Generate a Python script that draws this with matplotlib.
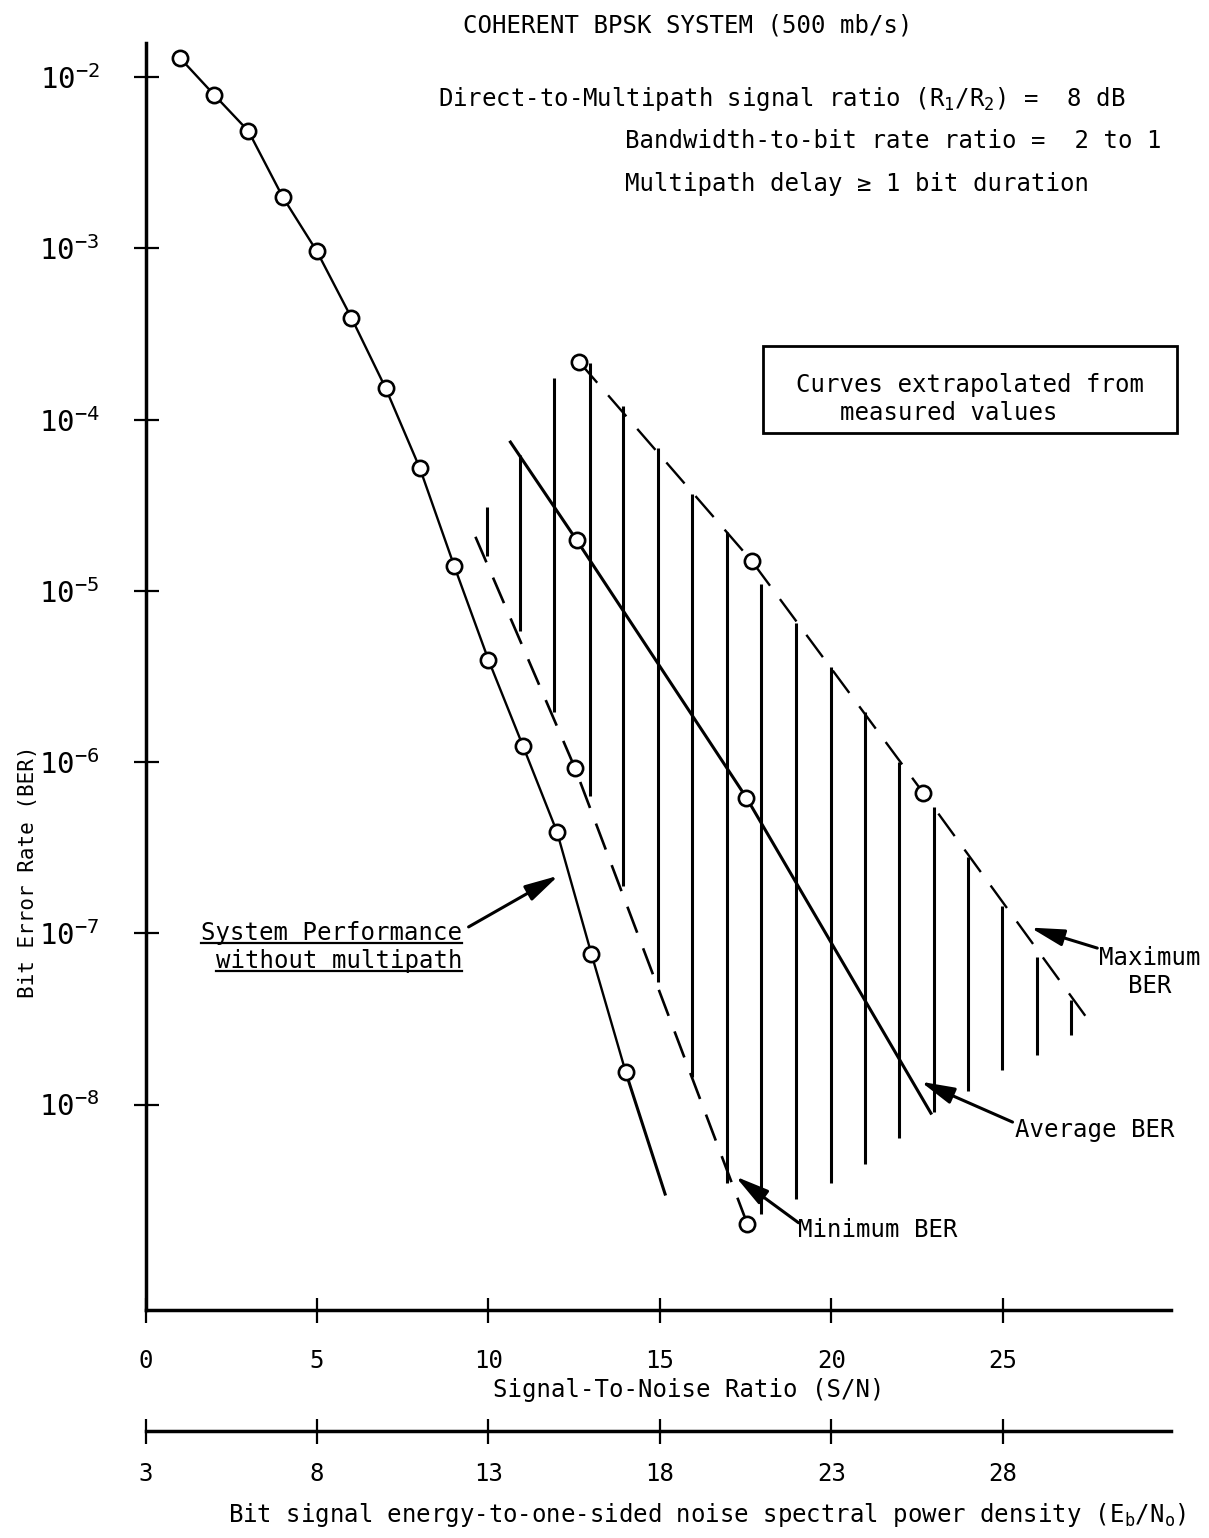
import matplotlib
matplotlib.use("Agg")
import matplotlib.pyplot as plt
from matplotlib.patches import Rectangle
from matplotlib.lines import Line2D
from matplotlib.ticker import NullLocator
from matplotlib.transforms import IdentityTransform

plt.rcParams['font.family'] = 'DejaVu Sans Mono'
plt.rcParams['mathtext.default'] = 'regular'
plt.rcParams['lines.scale_dashes'] = False

W, H = 1209, 1538
FS = 17.3

# system performance without multipath (measured)
sn_clean = [1, 2, 3, 4, 5, 6, 7, 8, 9, 10, 11, 12, 13, 14]
ber_clean = [1.3e-2, 7.9e-3, 4.85e-3, 2.0e-3, 9.6e-4, 3.95e-4, 1.53e-4,
             5.2e-5, 1.4e-5, 3.95e-6, 1.25e-6, 3.9e-7, 7.6e-8, 1.55e-8]
sn_clean_ext = [14, 15.15]
ber_clean_ext = [1.55e-8, 3.0e-9]

# maximum BER (dashed)
sn_max = [12.64, 17.67, 22.68, 27.4]
ber_max = [2.18e-4, 1.5e-5, 6.6e-7, 3.3e-8]
sn_max_meas = [12.64, 17.67, 22.68]
ber_max_meas = [2.18e-4, 1.5e-5, 6.6e-7]

# minimum BER (dashed)
sn_min = [9.62, 12.52, 17.55]
ber_min = [2.07e-5, 9.25e-7, 2.0e-9]
sn_min_meas = [12.52, 17.55]
ber_min_meas = [9.25e-7, 2.0e-9]

# average BER (solid)
sn_avg = [10.64, 12.57, 17.52, 22.9]
ber_avg = [7.4e-5, 1.98e-5, 6.2e-7, 8.9e-9]
sn_avg_meas = [12.57, 17.52]
ber_avg_meas = [1.98e-5, 6.2e-7]

# spread between max and min
hatch_sn = [9.95, 10.92, 11.92, 12.95, 13.93, 14.94, 15.94, 16.94, 17.96,
            18.98, 19.98, 20.98, 21.98, 22.98, 23.98, 24.98, 25.98, 26.98]
hatch_top = [3.1e-5, 6.2e-5, 1.75e-4, 2.15e-4, 1.2e-4, 6.8e-5, 3.7e-5, 2.2e-5, 1.1e-5,
             6.5e-6, 3.6e-6, 1.95e-6, 1.0e-6, 5.5e-7, 2.8e-7, 1.45e-7, 7.3e-8, 4.1e-8]
hatch_bot = [1.6e-5, 5.8e-6, 1.95e-6, 6.3e-7, 1.9e-7, 5.2e-8, 1.45e-8, 3.5e-9, 2.3e-9,
             2.8e-9, 3.5e-9, 4.5e-9, 6.4e-9, 9.0e-9, 1.2e-8, 1.6e-8, 1.95e-8, 2.55e-8]

sn_ticks = [0, 5, 10, 15, 20, 25]
ebno_ticks = [3, 8, 13, 18, 23, 28]
ber_ticks = [1e-2, 1e-3, 1e-4, 1e-5, 1e-6, 1e-7, 1e-8]
ber_labels = [r'$10^{-2}$', r'$10^{-3}$', r'$10^{-4}$', r'$10^{-5}$',
              r'$10^{-6}$', r'$10^{-7}$', r'$10^{-8}$']

fig = plt.figure(figsize=(W / 100, H / 100), dpi=100)
ax = fig.add_axes([145.5 / W, 1 - 1310 / H, (1171 - 145.5) / W, (1310 - 43) / H])
ax.set_xlim(0, 29.9)
ax.set_yscale('log')
ax.set_ylim(10 ** -9.2, 10 ** -1.8)

for s in ['top', 'right']:
    ax.spines[s].set_visible(False)
for s in ['left', 'bottom']:
    ax.spines[s].set_linewidth(2.5)

ax.set_xticks(sn_ticks)
ax.set_yticks(ber_ticks)
ax.set_yticklabels(ber_labels)
ax.yaxis.set_minor_locator(NullLocator())
ax.tick_params(axis='x', direction='inout', length=18, width=1.6, pad=19, labelsize=FS)
ax.tick_params(axis='y', direction='inout', length=18, width=1.6, pad=24, labelsize=21)

sec = ax.secondary_xaxis(-0.0955, functions=(lambda s: s + 3, lambda e: e - 3))
sec.set_xticks(ebno_ticks)
sec.spines['bottom'].set_linewidth(2.5)
sec.tick_params(direction='inout', length=18, width=1.6, pad=13, labelsize=FS)

mk = dict(marker='o', ms=11, mfc='white', mec='k', mew=1.9, ls='none', zorder=5)
dash = (0, (20, 12))

ax.vlines(hatch_sn, hatch_bot, hatch_top, colors='k', lw=2.2)

ax.plot(sn_clean, ber_clean, color='k', lw=1.7)
ax.plot(sn_clean_ext, ber_clean_ext, color='k', lw=2.2)
ax.plot(sn_clean, ber_clean, **mk)

ax.plot(sn_max, ber_max, color='k', lw=1.7, ls=dash)
ax.plot(sn_max_meas, ber_max_meas, **mk)

ax.plot(sn_min, ber_min, color='k', lw=1.9, ls=dash)
ax.plot(sn_min_meas, ber_min_meas, **mk)

ax.plot(sn_avg, ber_avg, color='k', lw=2.2)
ax.plot(sn_avg_meas, ber_avg_meas, **mk)

arrow = dict(arrowstyle='-|>,head_length=1.2,head_width=0.3', lw=2.2, color='k',
             shrinkA=0, shrinkB=0, mutation_scale=17)
ax.annotate('', xy=(12.04, 2.17e-7), xytext=(9.42, 1.09e-7), arrowprops=arrow, annotation_clip=False)
ax.annotate('', xy=(17.2, 3.8e-9), xytext=(19.04, 2.04e-9), arrowprops=arrow, annotation_clip=False)
ax.annotate('', xy=(22.6, 1.36e-8), xytext=(25.28, 7.9e-9), arrowprops=arrow, annotation_clip=False)
ax.annotate('', xy=(25.8, 1.08e-7), xytext=(27.75, 8.2e-8), arrowprops=arrow, annotation_clip=False)


def put(px, py, s, **kw):
    kw.setdefault('fontsize', FS)
    kw.setdefault('va', 'baseline')
    return fig.text(px / W, 1 - py / H, s, **kw)


put(688, 33, 'COHERENT BPSK SYSTEM (500 mb/s)', ha='center')
put(438, 106, 'Direct-to-Multipath signal ratio (R$_1$/R$_2$) =  8 dB')
put(625, 148, 'Bandwidth-to-bit rate ratio =  2 to 1')
put(625, 191, 'Multipath delay \u2265 1 bit duration')

fig.add_artist(Rectangle((763 / W, 1 - 433 / H), 414 / W, 87 / H, transform=fig.transFigure,
                         fill=False, ec='k', lw=2.0))
put(970, 392, 'Curves extrapolated from', ha='center')
put(949, 420, 'measured values', ha='center')

t1 = put(462, 940, 'System Performance', ha='right')
t2 = put(462, 968, 'without multipath', ha='right')
put(798, 1237, 'Minimum BER')
put(1015, 1137, 'Average BER')
put(1150, 965, 'Maximum', ha='center')
put(1150, 993, 'BER', ha='center')

put(689, 1397, 'Signal-To-Noise Ratio (S/N)', ha='center')
put(228, 1522, 'Bit signal energy-to-one-sided noise spectral power density (E$_b$/N$_o$)')
fig.text(28 / W, 1 - 872 / H, 'Bit Error Rate (BER)', rotation=90, ha='center', va='center',
         fontsize=15)

# underline the two caption lines
fig.canvas.draw()
renderer = fig.canvas.get_renderer()
for t in (t1, t2):
    bb = t.get_window_extent(renderer)
    fig.add_artist(Line2D([bb.x0, bb.x1], [bb.y0 + 2, bb.y0 + 2], color='k', lw=1.6,
                          transform=IdentityTransform()))

fig.savefig('out.png', dpi=100, facecolor='white')
